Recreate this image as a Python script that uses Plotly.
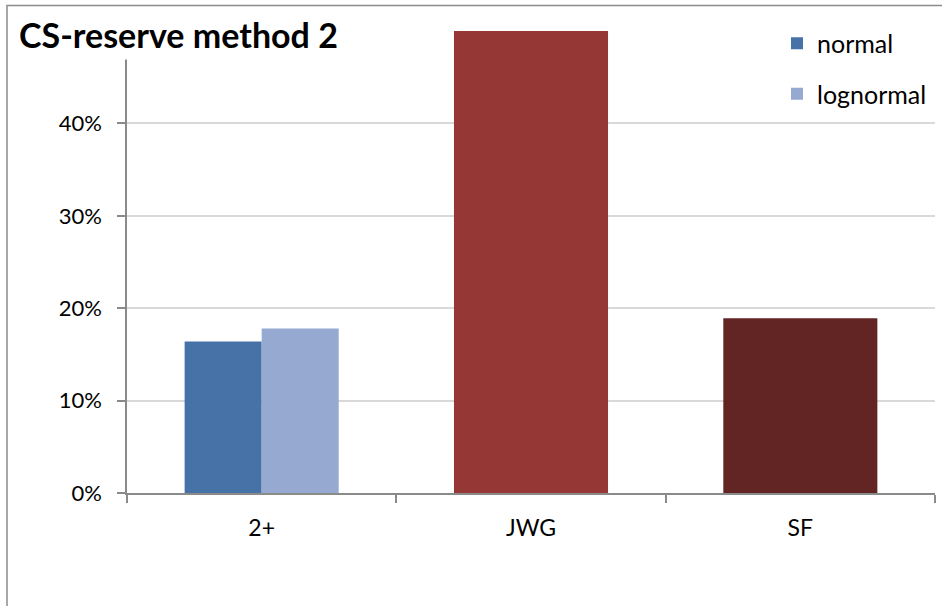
import plotly.graph_objects as go

# Data
categories = ["2+", "JWG", "SF"]
normal_vals = [0.164]
lognormal_vals = [0.178]
jwg_vals = [0.50]
sf_vals = [0.189]
y_tickvals = [0, 0.1, 0.2, 0.3, 0.4, 0.5]
y_ticktext = ["0%", "10%", "20%", "30%", "40%", ""]

FONT = "Lato"
W, H = 942, 606
L, R, T, B = 127, 7, 30.5, 113
PW, PH = W - L - R, H - T - B


def px_x(p):
    return (p - L) / PW


def px_y(p):
    return (H - B - p) / PH


half = 0.286
fig = go.Figure()
fig.add_trace(go.Bar(x=[categories[0]], y=normal_vals, name="normal",
                     marker_color="#4672A8", width=half, offset=-half,
                     legendgroup="a"))
fig.add_trace(go.Bar(x=[categories[0]], y=lognormal_vals, name="lognormal",
                     marker_color="#95A9D1", width=half, offset=0,
                     legendgroup="b"))
fig.add_trace(go.Bar(x=[categories[1]], y=jwg_vals, name="JWG",
                     marker_color="#953735", width=2 * half, offset=-half,
                     showlegend=False))
fig.add_trace(go.Bar(x=[categories[2]], y=sf_vals, name="SF",
                     marker_color="#632523", width=2 * half, offset=-half,
                     showlegend=False))
for tr in fig.data:
    tr.marker.line.width = 0

axis_col = "#8A8A8A"
fig.update_layout(
    width=W, height=H,
    margin=dict(l=L, r=R, t=T, b=B, pad=0),
    paper_bgcolor="white", plot_bgcolor="white",
    barmode="overlay",
    font=dict(family=FONT, size=23, color="#000000"),
    xaxis=dict(type="category", categoryorder="array", categoryarray=categories,
               range=[-0.5, 2.5], showline=True, linecolor=axis_col, linewidth=1.5,
               ticks="outside", ticklen=8, tickwidth=1.5, tickcolor=axis_col,
               tickson="boundaries", showgrid=False, ticklabelstandoff=14,
               fixedrange=True),
    yaxis=dict(range=[0, 0.5], tickvals=y_tickvals, ticktext=y_ticktext,
               showline=True, linecolor=axis_col, linewidth=1.5,
               ticks="outside", ticklen=8, tickwidth=1.5, tickcolor=axis_col,
               showgrid=True, gridcolor="#D9D9D9", gridwidth=1.5,
               tickfont=dict(size=22),
               zeroline=False, ticklabelstandoff=11, fixedrange=True),
    legend=dict(x=px_x(777), y=px_y(20), xanchor="left", yanchor="top",
                bgcolor="white", borderwidth=0, traceorder="grouped",
                tracegroupgap=15, font=dict(family=FONT, size=25)),
    shapes=[
        # chart frame
        dict(type="rect", xref="paper", yref="paper",
             x0=px_x(7), x1=px_x(960), y0=px_y(640), y1=px_y(5),
             line=dict(color="#8C8C8C", width=1.5), fillcolor="rgba(0,0,0,0)",
             layer="below"),
        # title backdrop
        dict(type="rect", xref="paper", yref="paper",
             x0=px_x(9), x1=px_x(347), y0=px_y(59), y1=px_y(12),
             line=dict(width=0), fillcolor="white", layer="above"),
    ],
    annotations=[
        dict(text="<b>CS-reserve method 2</b>", xref="paper", yref="paper",
             x=px_x(17), y=px_y(34), xanchor="left", yanchor="middle",
             showarrow=False, font=dict(family=FONT, size=34, color="#000000")),
    ],
)

fig.write_html("out.html")
